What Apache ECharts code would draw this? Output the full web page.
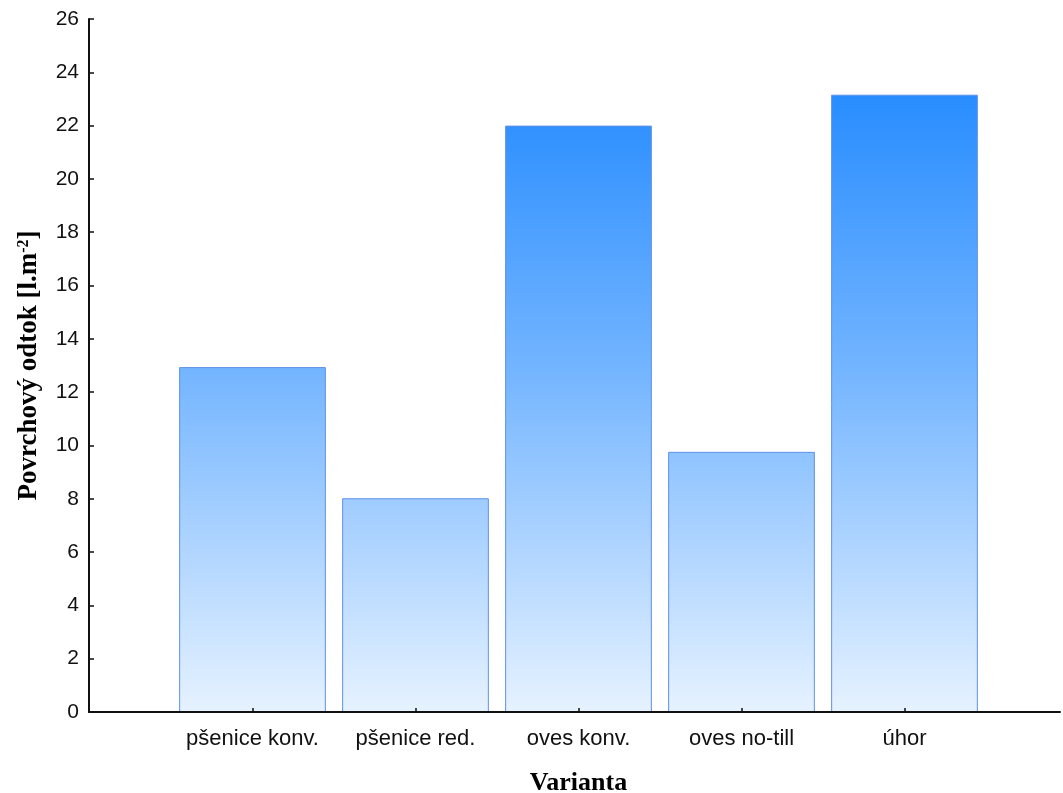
<!DOCTYPE html>
<html>
<head>
<meta charset="utf-8">
<script src="https://cdn.jsdelivr.net/npm/echarts@6/dist/echarts.min.js"></script>
<style>html,body{margin:0;padding:0;background:#fff;}#c{width:1063px;height:793px;}</style>
</head>
<body>
<div id="c"></div>
<script>
const categories = ['pšenice konv.', 'pšenice red.', 'oves konv.', 'oves no-till', 'úhor'];
const values = [12.94, 8.02, 22.0, 9.76, 23.16];
const yMin = 0, yMax = 26, yStep = 2;

const chart = echarts.init(document.getElementById('c'));
const sans = 'Liberation Sans, Arial, sans-serif';
const serif = 'Liberation Serif, Times New Roman, serif';
const grad = new echarts.graphic.LinearGradient(0, 19, 0, 712, [
  {offset: 0, color: '#1482FF'},
  {offset: 0.5, color: '#72B4FF'},
  {offset: 1, color: '#E6F2FF'}
], true);

chart.setOption({
  animation: false,
  backgroundColor: '#fff',
  grid: [
    {left: 89, top: 19, width: 971, height: 693, outerBoundsMode: 'none', containLabel: false},
    {left: 171, top: 19, width: 815, height: 693, outerBoundsMode: 'none', containLabel: false}
  ],
  xAxis: [
    {gridIndex: 0, type: 'category', data: [''], z: 5,
     axisLine: {show: true, lineStyle: {color: '#111', width: 2}},
     axisTick: {show: false}, axisLabel: {show: false}, splitLine: {show: false}},
    {gridIndex: 1, type: 'category', data: categories, z: 10,
     axisLine: {show: false, onZero: false},
     axisTick: {show: true, inside: true, length: 4, alignWithLabel: true, interval: 0, lineStyle: {color: '#111', width: 1.5}},
     axisLabel: {fontFamily: sans, fontSize: 22, color: '#111', margin: 16, interval: 0},
     name: 'Varianta', nameLocation: 'middle', nameGap: 58,
     nameTextStyle: {fontFamily: serif, fontWeight: 'bold', fontSize: 26, color: '#000'}}
  ],
  yAxis: [
    {gridIndex: 0, type: 'value', min: yMin, max: yMax, interval: yStep, z: 5,
     axisLine: {show: true, lineStyle: {color: '#111', width: 2}},
     axisTick: {show: true, inside: true, length: 5, lineStyle: {color: '#111', width: 1.5}},
     axisLabel: {fontFamily: sans, fontSize: 21, color: '#111', margin: 10},
     splitLine: {show: false},
     name: '{a|Povrchový odtok [l.m}{s|-2}{a|]}', nameLocation: 'middle', nameRotate: 90, nameGap: 46,
     nameTextStyle: {rich: {
       a: {fontFamily: serif, fontWeight: 'bold', fontSize: 27, color: '#000'},
       s: {fontFamily: serif, fontWeight: 'bold', fontSize: 16, color: '#000', verticalAlign: 'top'}
     }}},
    {gridIndex: 1, type: 'value', min: yMin, max: yMax, interval: yStep, show: false}
  ],
  series: [{
    type: 'bar', xAxisIndex: 1, yAxisIndex: 1, data: values,
    barCategoryGap: '10%',
    itemStyle: {color: grad, borderColor: '#5F90E8', borderWidth: 1}
  }]
});
</script>
</body>
</html>
